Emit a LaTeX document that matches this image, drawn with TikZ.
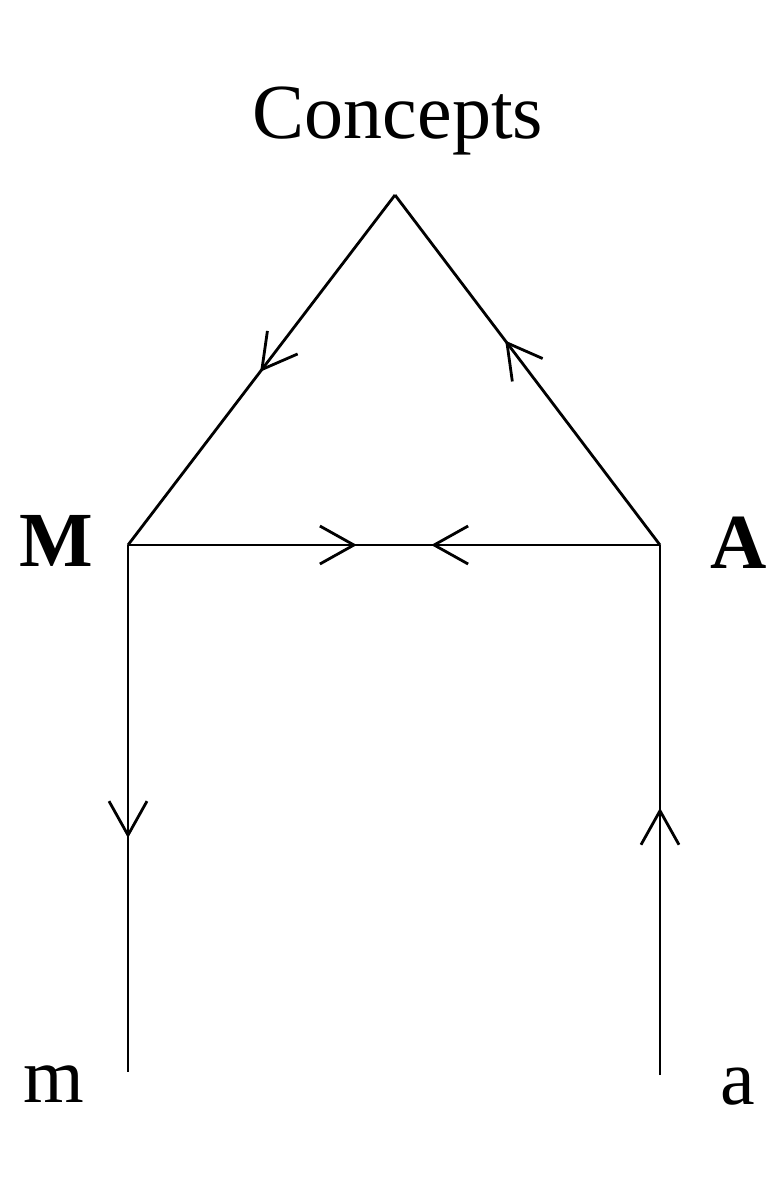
\documentclass[tikz,border=0pt]{standalone}
\usepackage{fontspec}
\setmainfont{Liberation Serif}
\usetikzlibrary{arrows.meta,decorations.markings}

\tikzset{
  edge/.style={line width=1.4pt},
  midarrow/.style={postaction={decorate},
    decoration={markings,mark=at position #1 with {\arrow{Straight Barb[length=17pt,width=19pt]}}}},
  lbl/.style={font=\fontsize{39}{46}\selectfont, inner sep=0pt}
}

\begin{document}
\begin{tikzpicture}[x=0.5pt,y=-0.5pt]
  \useasboundingbox (0,0) rectangle (776,1179);
  % corners of the diagram
  \coordinate (top) at (395,195);
  \coordinate (cM) at (128,545);
  \coordinate (cA) at (660,545);
  \coordinate (em) at (128,1072);
  \coordinate (ea) at (660,1075);
    % labels
  \node[lbl] (concepts) at (398,121) {Concepts};
  \node[lbl,font=\fontsize{39}{46}\selectfont\bfseries] (M) at (56,541) {M};
  \node[lbl,font=\fontsize{39}{46}\selectfont\bfseries] (A) at (739,543) {A};
  \node[lbl] (m) at (54,1084) {m};
  \node[lbl] (a) at (738,1087) {a};
    % triangle
  \draw[edge,midarrow=0.505] (top) -- (cM);
  \draw[edge,midarrow=0.584] (cA) -- (top);
  \draw[edge,midarrow=0.43] (cM) -- (cA);
  \draw[edge,midarrow=0.43] (cA) -- (cM);
    % legs
  \draw[edge,midarrow=0.556] (cM) -- (em);
  \draw[edge,midarrow=0.504] (ea) -- (cA);
\end{tikzpicture}
\end{document}
